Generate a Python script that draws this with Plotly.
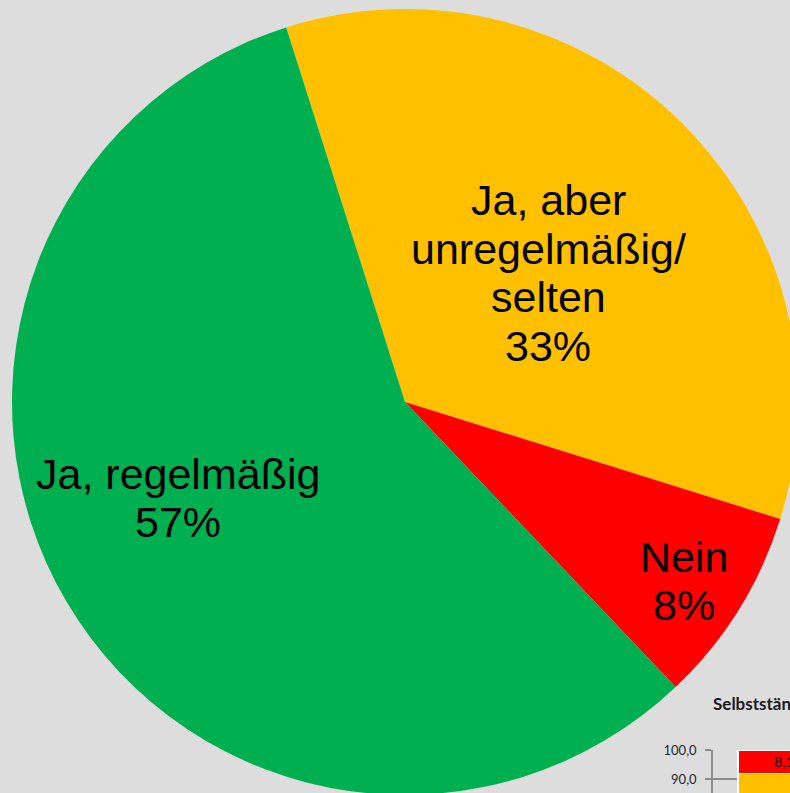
import plotly.graph_objects as go

# ---------------- data ----------------
categories = ["Ja, aber unregelmäßig/ selten", "Nein", "Ja, regelmäßig"]
label_lines = [["Ja, aber", "unregelmäßig/", "selten"], ["Nein"], ["Ja, regelmäßig"]]
values = [34.7, 8.1, 57.2]
shown_pct = ["33%", "8%", "57%"]
colors = ["#FFC000", "#FF0000", "#00B050"]

inset_title = "Selbstständigkeit"
inset_stack_order = [2, 0, 1]  # bottom -> top: green, orange, red

# ---------------- layout helpers (pixels) ----------------
W, H = 1000, 1100
BG = "#DDDDDD"
pie_cx, pie_cy, pie_r = 405, 402, 393
# label placement: (center x, first baseline y) for each category
label_place = [(548, 216.5), (684, 573), (178, 490)]
line_pitch = 48.5
label_font = 43
mid_offset = 0.35 * label_font + 1

fig = go.Figure()

fig.add_trace(go.Pie(
    labels=categories,
    values=values,
    sort=False,
    direction="clockwise",
    rotation=-17.6,
    marker=dict(colors=colors, line=dict(width=0)),
    textinfo="none",
    showlegend=False,
    domain=dict(
        x=[(pie_cx - pie_r) / W, (pie_cx + pie_r) / W],
        y=[1 - (pie_cy + pie_r) / H, 1 - (pie_cy - pie_r) / H],
    ),
))

# inset stacked bar (partially visible)
for i in inset_stack_order:
    fig.add_trace(go.Bar(
        x=[0.5], y=[values[i]], width=[0.648],
        marker=dict(color=colors[i], line=dict(color="white", width=1.5)),
        texttemplate="%{y:.1f}",
        textposition="inside", insidetextanchor="middle",
        textfont=dict(family="Lato", size=14, color="black"),
        showlegend=False, xaxis="x", yaxis="y",
    ))

annotations = []
for lines, pct, (cx, by) in zip(label_lines, shown_pct, label_place):
    all_lines = lines + [pct]
    for k, t in enumerate(all_lines):
        base = by + k * line_pitch
        annotations.append(dict(
            text=t, x=cx / W, y=1 - (base - mid_offset) / H,
            xref="paper", yref="paper", xanchor="center", yanchor="middle",
            showarrow=False,
            font=dict(family="Liberation Sans, Arial", size=label_font, color="black"),
        ))

annotations.append(dict(
    text="<b>" + inset_title + "</b>", x=711 / W, y=1 - 703 / H,
    xref="paper", yref="paper", xanchor="left", yanchor="middle", showarrow=False,
    font=dict(family="Lato", size=17, color="#1a1a1a"),
))

fig.update_layout(
    width=W, height=H,
    margin=dict(l=0, r=0, t=0, b=0, autoexpand=False),
    paper_bgcolor=BG, plot_bgcolor=BG,
    separators=",.",
    barmode="stack",
    annotations=annotations,
    xaxis=dict(domain=[713 / W, 855 / W], range=[0, 1], visible=False, fixedrange=True),
    yaxis=dict(
        domain=[1 - 1040 / H, 1 - 750 / H], range=[0, 100], autorange=False, dtick=10,
        tickformat=".1f", ticks="outside", ticklen=6, tickcolor="#8c8c8c", tickwidth=1.5,
        ticklabelstandoff=6,
        showgrid=True, gridcolor="#8c8c8c", gridwidth=1.5,
        showline=True, linecolor="#8c8c8c", linewidth=1.5, zeroline=False,
        tickfont=dict(family="Lato", size=13, color="#262626"),
        anchor="x",
    ),
)

fig.write_html(
    "out.html",
    config={"displayModeBar": False},
    post_script="document.body.style.margin='0';document.body.style.overflow='hidden';"
                "document.documentElement.style.overflow='hidden';",
)
